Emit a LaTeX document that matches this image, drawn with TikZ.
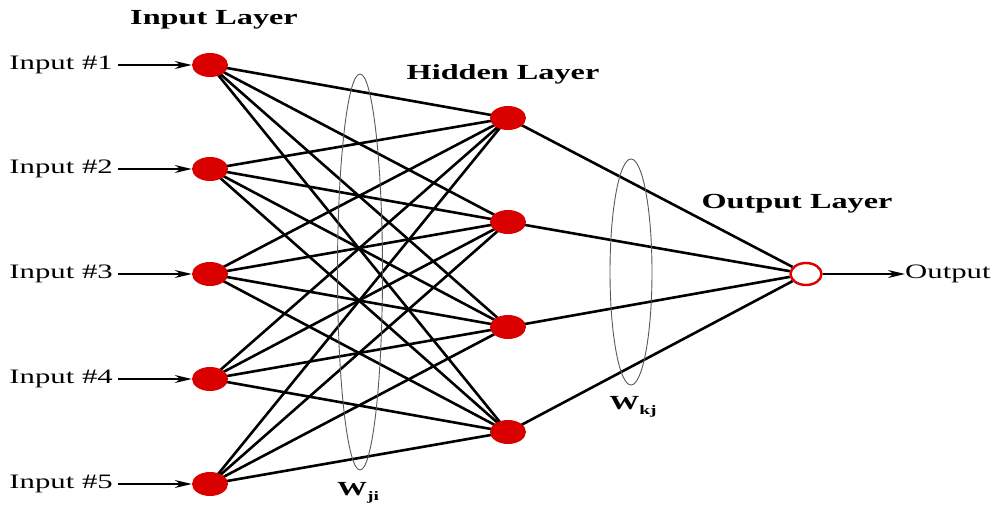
\documentclass[tikz,border=0pt]{standalone}
\usepackage{fontspec}
\setmainfont{Liberation Serif}[FakeStretch=1.5]
\usetikzlibrary{shapes.geometric,arrows.meta,backgrounds}
\definecolor{nred}{RGB}{218,0,0}
\begin{document}
\begin{tikzpicture}[x=1pt,y=-1pt,
  neuron/.style={ellipse,fill=nred,minimum width=36pt,minimum height=24pt,inner sep=0pt},
  outneuron/.style={ellipse,draw=nred,line width=2.4pt,fill=white,minimum width=31pt,minimum height=22pt,inner sep=0pt},
  conn/.style={line width=2.6pt,black},
  arr/.style={line width=1.3pt,-{Stealth[length=17pt,width=8pt]}},
  lbl/.style={font=\fontsize{20.5}{20}\selectfont,inner sep=0pt},
  layer/.style={font=\fontsize{21.5}{20}\selectfont\bfseries,inner sep=0pt},
  wring/.style={ellipse,draw=black!65,line width=0.9pt,inner sep=0pt},
  wlbl/.style={font=\fontsize{20}{20}\selectfont\bfseries,inner sep=0pt}]
\useasboundingbox (0,0) rectangle (994,505);
% rings
\node[wring,minimum width=45pt,minimum height=396pt] (wji) at (360,272) {};
\node[wring,minimum width=42pt,minimum height=226pt] (wkj) at (631,272) {};
% input nodes
\foreach \i/\y in {1/65,2/169,3/274,4/379,5/484}{
  \node[neuron] (i\i) at (210,\y) {};
  \node[lbl,anchor=east] (l\i) at (113,\y) {Input \#\i};
}
\foreach \j/\y in {1/118,2/222,3/327,4/432}{
  \node[neuron] (h\j) at (508,\y) {};
}
\node[outneuron] (o) at (806,274) {};
\begin{scope}[on background layer]
\foreach \i in {1,...,5}{\foreach \j in {1,...,4}{\draw[conn] (i\i.center) -- (h\j.center);}}
\foreach \j in {1,...,4}{\draw[conn] (h\j.center) -- (o);}
\end{scope}
\foreach \i in {1,...,5}{\draw[arr] (l\i.east) ++(5,0) coordinate (s\i) (s\i) -- (i\i.west);}
\node[lbl,anchor=west] (out) at (905,274) {Output};
\draw[arr] (o.east) -- (out.west);
\node[layer] (tin) at (214,20) {Input Layer};
\node[layer] (thid) at (503,74) {Hidden Layer};
\node[layer] (tout) at (797,204) {Output Layer};
\node[wlbl] (lji) at (358,493) {W\raisebox{-5pt}{\fontsize{13}{13}\selectfont ji}};
\node[wlbl] (lkj) at (633,407) {W\raisebox{-5pt}{\fontsize{13}{13}\selectfont kj}};
\end{tikzpicture}
\end{document}
